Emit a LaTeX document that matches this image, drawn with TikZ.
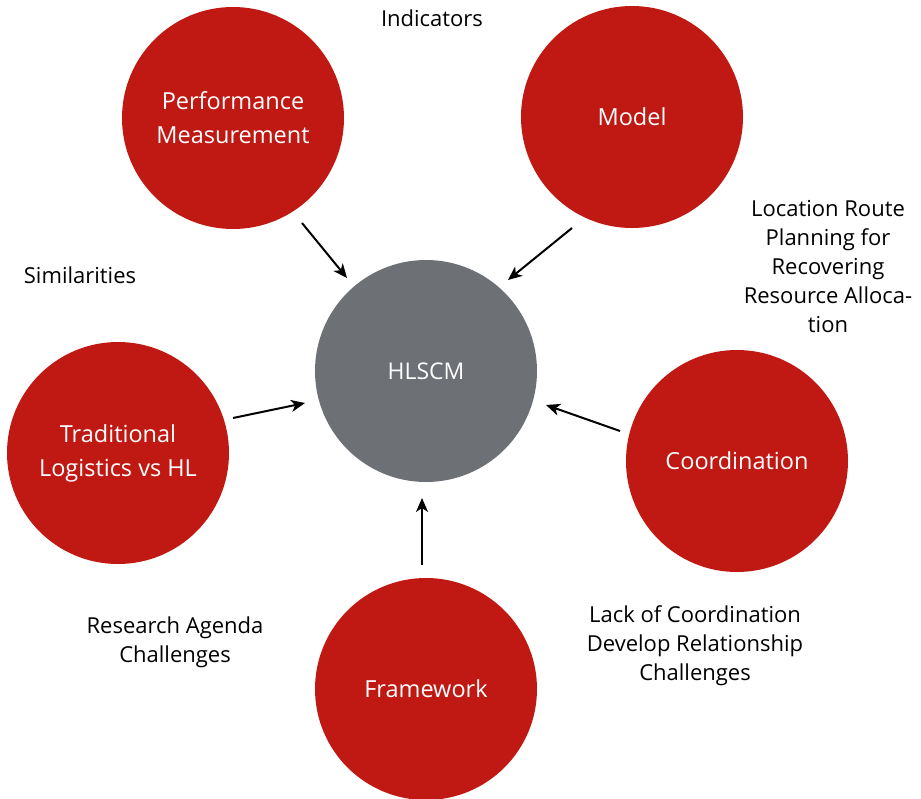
\documentclass[tikz,border=0pt]{standalone}
\usepackage{fontspec}
\setmainfont{Open Sans}
\usetikzlibrary{arrows.meta}
\definecolor{cred}{HTML}{C01913}
\definecolor{cgray}{HTML}{6D7075}
\begin{document}
\begin{tikzpicture}[x=1pt,y=-1pt,
  bub/.style={circle,fill=cred,draw=none,minimum size=222pt,inner sep=0pt,text=white,align=center,font=\fontsize{23.5}{34}\selectfont},
  hub/.style={bub,fill=cgray,font=\fontsize{23}{30}\selectfont},
  lbl/.style={align=center,font=\fontsize{22}{29}\selectfont,text=black},
  arr/.style={-{Stealth[length=14pt,width=12pt,inset=4pt]},line width=2pt,black}]
\useasboundingbox (0,0) rectangle (921,798);
\node[hub] (c) at (426,371) {HLSCM};
\node[bub] (pm) at (233,118) {Performance\\Measurement};
\node[bub] (mo) at (632,117) {Model};
\node[bub] (tl) at (118,453) {Traditional\\Logistics vs HL};
\node[bub] (co) at (737,461) {Coordination};
\node[bub] (fw) at (426,689) {Framework};
\coordinate (pmS) at (302,223); \coordinate (pmT) at (347,278);
\coordinate (moS) at (572,228); \coordinate (moT) at (508,280);
\coordinate (tlS) at (233,418); \coordinate (tlT) at (305,403);
\coordinate (coS) at (620,431); \coordinate (coT) at (546,405);
\coordinate (fwS) at (422,565); \coordinate (fwT) at (422,498);
\draw[arr] (pmS) -- (pmT);
\draw[arr] (moS) -- (moT);
\draw[arr] (tlS) -- (tlT);
\draw[arr] (coS) -- (coT);
\draw[arr] (fwS) -- (fwT);
\node[lbl] (ind) at (432,18) {Indicators};
\node[lbl] (sim) at (80,275) {Similarities};
\node[lbl] (loc) at (828,267) {Location Route\\Planning for\\Recovering\\Resource Alloca-\\tion};
\node[lbl] (ra) at (175,642) {Research Agenda\\Challenges};
\node[lbl] (lc) at (695,646) {Lack of Coordination\\Develop Relationship\\Challenges};
\end{tikzpicture}
\end{document}
